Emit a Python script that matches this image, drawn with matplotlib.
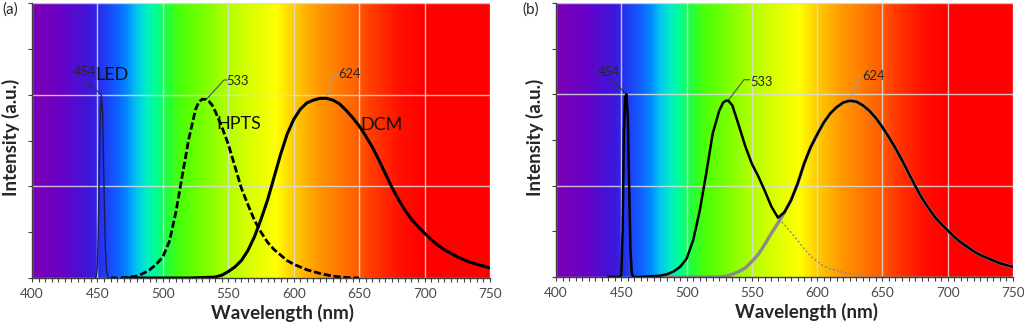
import numpy as np
import matplotlib
matplotlib.use("Agg")
import matplotlib.pyplot as plt
from matplotlib.colors import LinearSegmentedColormap
from matplotlib.ticker import MultipleLocator

plt.rcParams['font.family'] = ['Lato', 'DejaVu Sans']

# ---- spectra, panel (a) ----
led_a_nm = [448, 449, 450, 451, 452, 453, 454, 455, 456, 457, 458, 459]
led_a = [0.0, 0.01, 0.12, 0.8, 1.7, 2.0, 1.8, 1.0, 0.35, 0.08, 0.01, 0.0]

hpts_a_nm = [460, 470, 475, 480, 485, 490, 495, 500, 505, 510, 515, 520, 525,
             527.5, 530, 532.5, 535, 537.5, 540, 545, 550, 555, 560, 565, 570,
             575, 580, 585, 590, 595, 600, 605, 610, 615, 620, 625, 630, 640, 650]
hpts_a = [0.0, 0.0, 0.01, 0.02, 0.05, 0.09, 0.15, 0.23, 0.40, 0.72, 1.13, 1.53,
          1.84, 1.92, 1.95, 1.95, 1.93, 1.89, 1.82, 1.65, 1.46, 1.22, 0.98, 0.80,
          0.63, 0.50, 0.39, 0.31, 0.25, 0.19, 0.15, 0.12, 0.09, 0.07, 0.05,
          0.035, 0.02, 0.005, 0.0]

dcm_a_nm = [470, 500, 520, 530, 540, 545, 550, 555, 560, 565, 570, 575, 580,
            585, 590, 595, 600, 605, 610, 615, 620, 625, 630, 635, 640, 645,
            650, 655, 660, 665, 670, 675, 680, 685, 690, 695, 700, 705, 710,
            715, 720, 725, 730, 735, 740, 745, 750]
dcm_a = [0.0, 0.0, 0.0, 0.005, 0.01, 0.03, 0.07, 0.12, 0.19, 0.30, 0.45, 0.64,
         0.85, 1.10, 1.35, 1.57, 1.73, 1.84, 1.91, 1.94, 1.96, 1.96, 1.94, 1.90,
         1.83, 1.75, 1.66, 1.55, 1.43, 1.29, 1.14, 0.99, 0.86, 0.74, 0.64, 0.56,
         0.49, 0.42, 0.36, 0.31, 0.27, 0.23, 0.20, 0.17, 0.15, 0.13, 0.11]

# ---- spectra, panel (b) ----
led_b_nm = [440, 448, 449, 450, 451, 452, 453, 454, 455, 456, 457, 458, 459, 460]
led_b = [0.0, 0.0, 0.0, 0.02, 0.5, 1.6, 1.97, 2.0, 1.75, 1.0, 0.3, 0.05, 0.0, 0.0]

b_nm = [460, 465, 470, 475, 480, 485, 490, 495, 500, 505, 510, 515, 520, 525,
        528, 530, 532, 535, 540, 545, 550, 555, 560, 565, 570, 575, 580, 585,
        590, 595, 600, 605, 610, 615, 620, 625, 630, 635, 640, 645, 650, 655,
        660, 665, 670, 675, 680, 685, 690, 695, 700, 705, 710, 715, 720, 725,
        730, 735, 740, 745, 750]
hpts_b = [0.0, 0.003, 0.006, 0.01, 0.015, 0.03, 0.06, 0.11, 0.20, 0.40, 0.72,
          1.13, 1.57, 1.82, 1.91, 1.93, 1.93, 1.88, 1.66, 1.43, 1.24, 1.10, 0.94,
          0.77, 0.65, 0.57, 0.49, 0.40, 0.31, 0.23, 0.17, 0.12, 0.09, 0.07, 0.05,
          0.04, 0.03, 0.02, 0.015, 0.01, 0.005, 0.0, 0.0, 0.0, 0.0, 0.0, 0.0, 0.0,
          0.0, 0.0, 0.0, 0.0, 0.0, 0.0, 0.0, 0.0, 0.0, 0.0, 0.0, 0.0, 0.0]
dcm_b = [0.0, 0.0, 0.0, 0.0, 0.0, 0.0, 0.0, 0.0, 0.0, 0.0, 0.0, 0.0, 0.0, 0.0,
         0.005, 0.01, 0.015, 0.03, 0.06, 0.10, 0.17, 0.25, 0.36, 0.48, 0.59, 0.71,
         0.84, 1.02, 1.24, 1.42, 1.56, 1.69, 1.79, 1.86, 1.91, 1.93, 1.92, 1.88,
         1.82, 1.74, 1.64, 1.53, 1.41, 1.28, 1.14, 1.00, 0.87, 0.76, 0.66, 0.58,
         0.51, 0.44, 0.38, 0.33, 0.28, 0.24, 0.21, 0.18, 0.15, 0.13, 0.11]

# peak labels
peak_labels = ["454", "533", "624"]

# visible-spectrum backdrop: (wavelength, colour)
spectrum_stops = [
    (400, "#7d00b4"), (420, "#6a00c4"), (445, "#3c18dc"), (452, "#2530f0"),
    (465, "#1060ff"), (472, "#0088ff"), (480, "#00c8f0"), (488, "#00f0c0"),
    (495, "#00ff90"), (503, "#20ff40"), (513, "#48ff08"), (528, "#70ff00"),
    (549, "#b0ff00"), (566, "#d8ff00"), (587, "#ffff00"), (599, "#ffd000"),
    (618, "#ff9a00"), (648, "#ff6000"), (658, "#ff4000"), (681, "#ff1000"),
    (699, "#ff0000"), (750, "#ff0000"),
]

XMIN, XMAX, YMAX = 400, 750, 3.0
lo, hi = spectrum_stops[0][0], spectrum_stops[-1][0]
spec_cmap = LinearSegmentedColormap.from_list(
    "visible", [((w - lo) / (hi - lo), c) for w, c in spectrum_stops], N=1024)

fig = plt.figure(figsize=(10.24, 3.26), dpi=100)
ax_a = fig.add_axes([32 / 1024, 1 - 278 / 326, 458 / 1024, 275 / 326])
ax_b = fig.add_axes([556 / 1024, 1 - 277 / 326, 457 / 1024, 274 / 326])

TICK_C = "#404040"


def style_axes(ax):
    grad = np.linspace(0, 1, 700).reshape(1, -1)
    ax.imshow(grad, cmap=spec_cmap, extent=(XMIN, XMAX, 0, YMAX),
              aspect="auto", zorder=0, interpolation="bilinear")
    ax.set_xlim(XMIN, XMAX)
    ax.set_ylim(0, YMAX)
    ax.xaxis.set_major_locator(MultipleLocator(50))
    ax.xaxis.set_minor_locator(MultipleLocator(5))
    ax.yaxis.set_major_locator(MultipleLocator(1))
    ax.yaxis.set_minor_locator(MultipleLocator(0.5))
    ax.grid(True, which="major", color="#dcdcdc", lw=1.0, alpha=0.85, zorder=1)
    ax.set_axisbelow(False)
    for s in ("top", "right"):
        ax.spines[s].set_visible(False)
    for s in ("left", "bottom"):
        ax.spines[s].set_color(TICK_C)
        ax.spines[s].set_linewidth(1.0)
        ax.spines[s].set_zorder(5)
    ax.tick_params(axis="x", which="both", direction="out", length=3,
                   width=0.8, color=TICK_C, labelsize=9.8, labelcolor="#4a4a4a",
                   pad=4)
    ax.tick_params(axis="y", which="both", direction="out", length=3,
                   width=0.8, color=TICK_C, labelleft=False)
    ax.set_xlabel("Wavelength (nm)", fontsize=13.5, fontweight="bold",
                  color="#262626", va="center")
    ax.xaxis.set_label_coords(0.548, -0.127)
    ax.set_ylabel("Intensity (a.u.)", fontsize=13.5, fontweight="bold",
                  color="#262626", va="center")
    ax.yaxis.set_label_coords(-0.046, 0.51)
    for line in ax.get_xgridlines() + ax.get_ygridlines():
        line.set_zorder(1)


def leader(ax, pts, color):
    xs, ys = zip(*pts)
    ax.plot(xs, ys, color=color, lw=0.8, zorder=3, solid_capstyle="butt")


style_axes(ax_a)
style_axes(ax_b)

# ---- panel (a) ----
ax_a.plot(led_a_nm, led_a, color="#1c1c50", lw=1.0, zorder=4)
ax_a.plot(hpts_a_nm, hpts_a, color="black", lw=2.0, ls=(0, (2.6, 1.0)), zorder=4)
ax_a.plot(dcm_a_nm, dcm_a, color="black", lw=2.2, zorder=4)

leader(ax_a, [(440.5, 2.14), (452.5, 2.01)], "#303030")
leader(ax_a, [(549.5, 2.16), (546.7, 2.16), (532.7, 1.94)], "#505050")
leader(ax_a, [(634.0, 2.22), (630.2, 2.21), (625.2, 1.95)], "#a0a0a0")
ax_a.text(440.9, 2.25, peak_labels[0], fontsize=9.3, ha="center", va="center",
          color="#262626", zorder=6)
ax_a.text(556.7, 2.15, peak_labels[1], fontsize=9.3, ha="center", va="center",
          color="#262626", zorder=6)
ax_a.text(642.8, 2.22, peak_labels[2], fontsize=9.3, ha="center", va="center",
          color="#262626", zorder=6)
ax_a.text(461.5, 2.21, "LED", fontsize=13, ha="center", va="center",
          color="#101010", zorder=6)
ax_a.text(558.0, 1.68, "HPTS", fontsize=13, ha="center", va="center",
          color="#101010", zorder=6)
ax_a.text(667.0, 1.67, "DCM", fontsize=13, ha="center", va="center",
          color="#101010", zorder=6)

# ---- panel (b) ----
hpts_b_arr = np.array(hpts_b)
dcm_b_arr = np.array(dcm_b)
envelope = np.maximum(hpts_b_arr, dcm_b_arr)
ax_b.plot(b_nm, dcm_b_arr, color="#8a8a8a", lw=2.4, zorder=3)
ax_b.plot(b_nm, hpts_b_arr, color="#8a8a8a", lw=1.0, ls=(0, (1.5, 1.5)), zorder=3)
ax_b.plot(b_nm, envelope, color="black", lw=1.8, zorder=4)
ax_b.plot(led_b_nm, led_b, color="black", lw=1.8, zorder=4)

leader(ax_b, [(441.4, 2.17), (453.6, 2.01)], "#303030")
leader(ax_b, [(548.6, 2.16), (544.0, 2.16), (531.7, 1.93)], "#505050")
leader(ax_b, [(632.8, 2.21), (625.2, 1.94)], "#a0a0a0")
ax_b.text(440.6, 2.25, peak_labels[0], fontsize=9.3, ha="center", va="center",
          color="#262626", zorder=6)
ax_b.text(557.0, 2.14, peak_labels[1], fontsize=9.3, ha="center", va="center",
          color="#262626", zorder=6)
ax_b.text(643.2, 2.20, peak_labels[2], fontsize=9.3, ha="center", va="center",
          color="#262626", zorder=6)

fig.text(10 / 1024, 1 - 10 / 326, "(a)", fontsize=11, ha="center",
         va="center", color="#262626")
fig.text(531 / 1024, 1 - 10 / 326, "(b)", fontsize=11, ha="center",
         va="center", color="#262626")

fig.savefig("out.png", dpi=100)
